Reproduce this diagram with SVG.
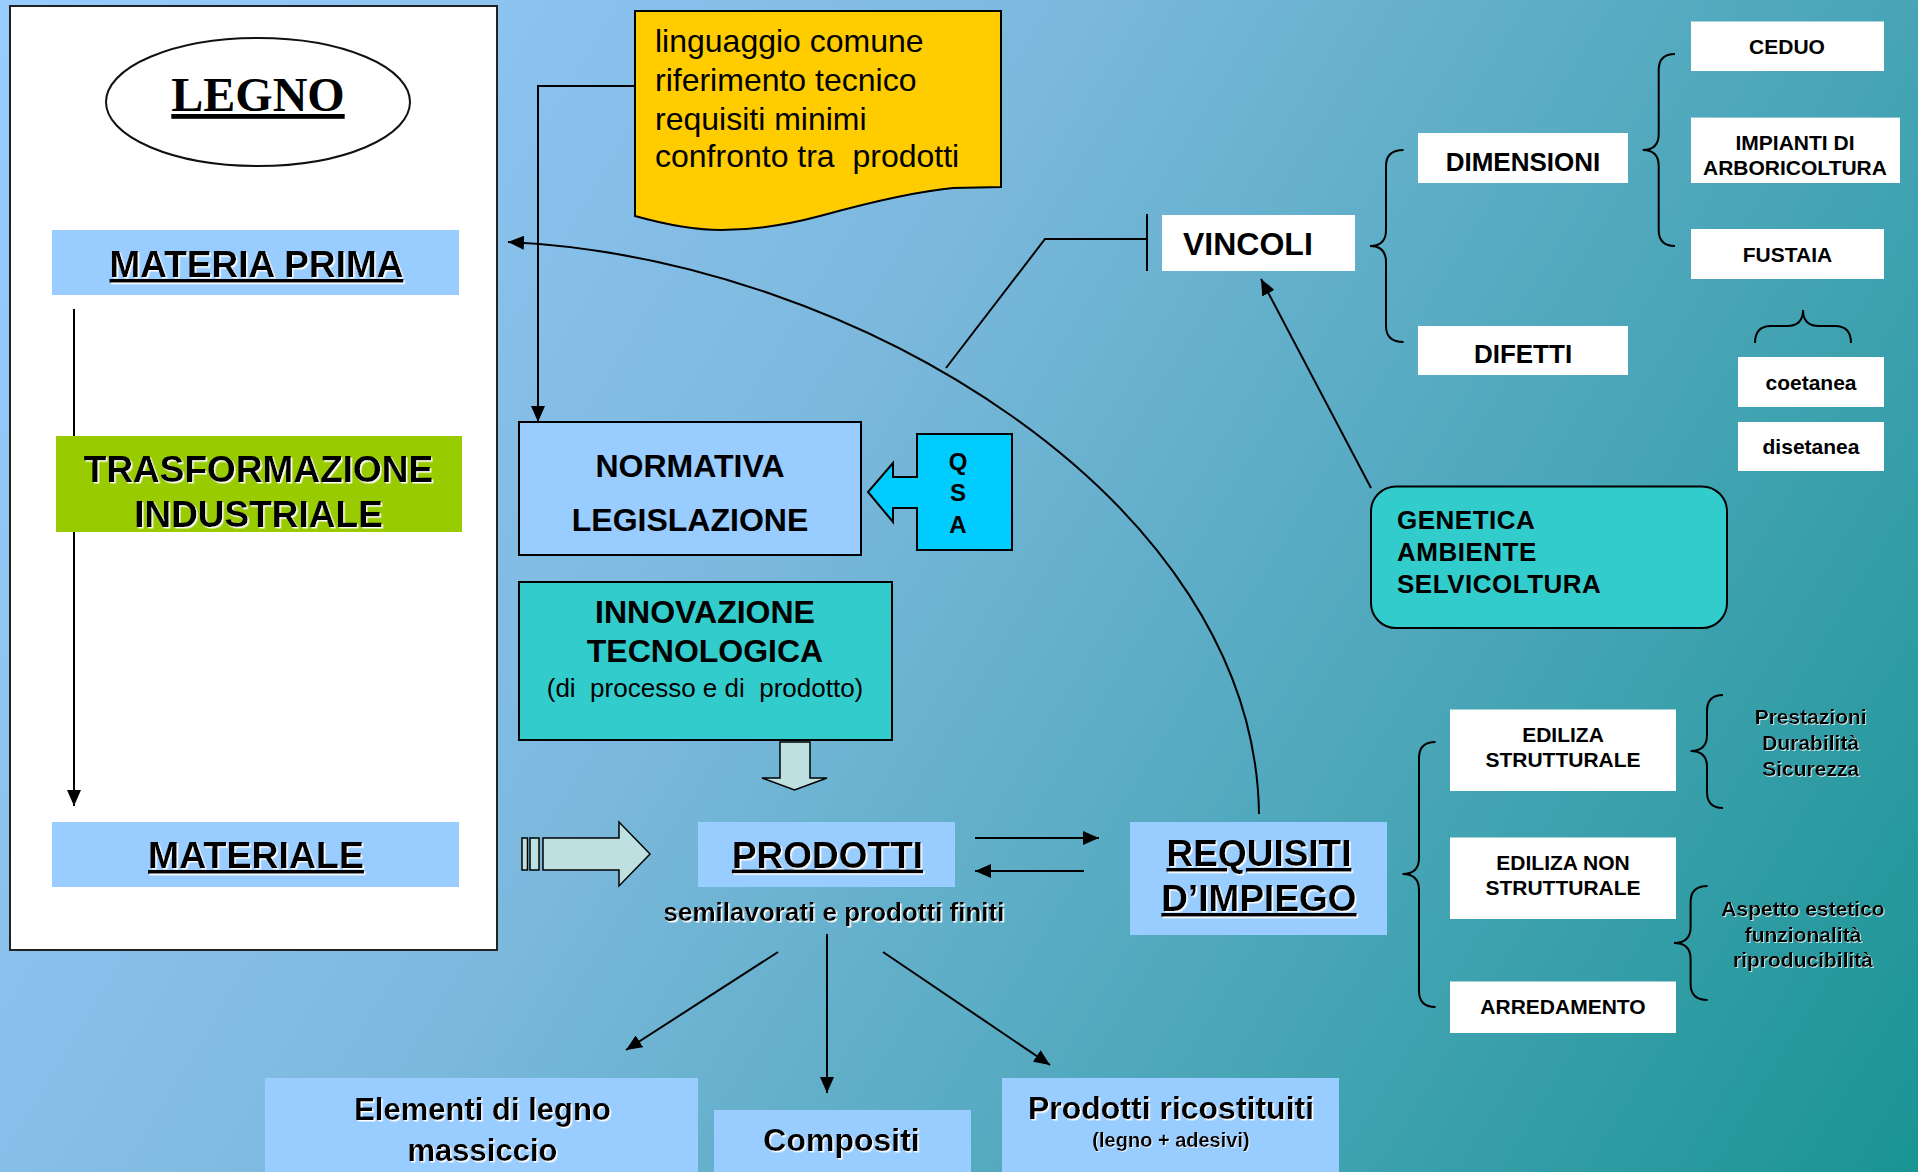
<svg xmlns="http://www.w3.org/2000/svg" width="1918" height="1172" viewBox="0 0 1918 1172">
<defs>
<linearGradient id="bg" gradientUnits="userSpaceOnUse" x1="0" y1="0" x2="1918" y2="1172">
<stop offset="0" stop-color="#99CCFF"/>
<stop offset="0.4" stop-color="#7DB9DE"/>
<stop offset="1" stop-color="#1A9494"/>
</linearGradient>
<marker id="ah" markerUnits="userSpaceOnUse" markerWidth="16" markerHeight="14" viewBox="0 0 16 14" refX="16" refY="7" orient="auto">
<path d="M0,0 L16,7 L0,14 z" fill="#000"/>
</marker>
<filter id="sh" x="-5%" y="-20%" width="110%" height="140%">
<feDropShadow dx="1.5" dy="1.5" stdDeviation="0" flood-color="#FFFFFF" flood-opacity="1"/>
</filter>
<filter id="sh2" x="-5%" y="-20%" width="110%" height="140%">
<feDropShadow dx="1" dy="1" stdDeviation="0" flood-color="#FFFFFF" flood-opacity="0.7"/>
</filter>
</defs>
<style>
.b{font-family:"Liberation Sans",Arial,sans-serif;font-weight:bold;fill:#000}
.r{font-family:"Liberation Sans",Arial,sans-serif;font-weight:normal;fill:#000}
.c{text-anchor:middle}
.u{text-decoration:underline}
.s{filter:url(#sh)}
.s2{filter:url(#sh2)}
.conn{fill:none;stroke:#000;stroke-width:2}
.lb{fill:#99CCFF}
.wb{fill:#FFFFFF}
.br{fill:none;stroke:#000;stroke-width:2}
.fat{fill:#BFE0E0;stroke:#000;stroke-width:1.5}
</style>
<rect x="0" y="0" width="1918" height="1172" fill="url(#bg)"/>

<g id="panel-legno">
<rect x="10" y="6" width="487" height="944" fill="#FFFFFF" stroke="#222" stroke-width="2"/>
</g>

<g id="connectors">
<path class="conn" d="M74,309 V806" marker-end="url(#ah)"/>
<path class="conn" d="M635,86 H538 V422" marker-end="url(#ah)"/>
<path class="conn" d="M1259,814 C1255,500 855,258 508,242" marker-end="url(#ah)"/>
<path class="conn" d="M946,368 L1045,239 H1147"/>
<path class="conn" d="M1147,214 V271"/>
<path class="conn" d="M1371,488 L1261,279" marker-end="url(#ah)"/>
<path class="conn" d="M975,838 H1099" marker-end="url(#ah)"/>
<path class="conn" d="M1084,871 H975" marker-end="url(#ah)"/>
<path class="conn" d="M827,934 V1093" marker-end="url(#ah)"/>
<path class="conn" d="M778,952 L626,1050" marker-end="url(#ah)"/>
<path class="conn" d="M883,952 L1050,1065" marker-end="url(#ah)"/>
<path class="br" d="M1403.6,150 Q1386,150 1386,166 L1386,230 Q1386,246 1370,246 Q1386,246 1386,262 L1386,326 Q1386,342 1403.6,342"/>
<path class="br" d="M1675,54 Q1658.7,54 1658.7,70 L1658.7,134 Q1658.7,150 1642.7,150 Q1658.7,150 1658.7,166 L1658.7,230 Q1658.7,246 1675,246"/>
<path class="br" d="M1755,343 Q1755,326 1771,326 L1787,326 Q1803,326 1803,310 Q1803,326 1819,326 L1835,326 Q1851,326 1851,343"/>
<path class="br" d="M1435.5,742 Q1419,742 1419,758 L1419,858 Q1419,874 1402.5,874 Q1419,874 1419,890 L1419,991 Q1419,1007 1435.5,1007"/>
<path class="br" d="M1723,695 Q1707,695 1707,711 L1707,735 Q1707,751 1690.6,751 Q1707,751 1707,767 L1707,792 Q1707,808 1723,808"/>
<path class="br" d="M1707.6,886 Q1690.6,886 1690.6,902 L1690.6,927 Q1690.6,943 1674,943 Q1690.6,943 1690.6,959 L1690.6,984 Q1690.6,1000 1707.6,1000"/>
</g>

<g id="legno">
<ellipse cx="258" cy="102" rx="152" ry="64" fill="#FFFFFF" stroke="#111" stroke-width="2"/>
<text x="258" y="111" class="c u" font-family="'Liberation Serif','Times New Roman',serif" font-weight="bold" font-size="48">LEGNO</text>
</g>
<g id="materia-prima">
<rect class="lb" x="52" y="230" width="407" height="65"/>
<text class="b c u s" x="256.5" y="277" font-size="37">MATERIA PRIMA</text>
</g>
<g id="trasformazione">
<rect x="56" y="436" width="406" height="96" fill="#99CC00"/>
<text class="b c s" x="258.5" y="482" font-size="37">TRASFORMAZIONE</text>
<text class="b c s" x="258.5" y="527" font-size="37">INDUSTRIALE</text>
</g>
<g id="materiale">
<rect class="lb" x="52" y="822" width="407" height="65"/>
<text class="b c u s" x="256" y="868" font-size="37.5">MATERIALE</text>
</g>

<g id="nota">
<path d="M635,11 H1001 V187 L953,188 C910,192 860,205 820,216 C790,224 760,230 721,230 C690,230 660,223 635,216 Z" fill="#FFCC00" stroke="#000" stroke-width="2"/>
<text class="r" x="655" y="52" font-size="32" xml:space="preserve">linguaggio comune</text>
<text class="r" x="655" y="91" font-size="32" xml:space="preserve">riferimento tecnico</text>
<text class="r" x="655" y="129.5" font-size="32" xml:space="preserve">requisiti minimi</text>
<text class="r" x="655" y="167" font-size="32" xml:space="preserve">confronto tra  prodotti</text>
</g>

<g id="normativa">
<rect class="lb" x="519" y="422" width="342" height="133" stroke="#000" stroke-width="2"/>
<text class="b c" x="690" y="477" font-size="32">NORMATIVA</text>
<text class="b c" x="690" y="531" font-size="32">LEGISLAZIONE</text>
</g>
<g id="qsa">
<path d="M917,434 H1012 V550 H917 V508 H893 V522 L868,492 L893,463 V477 H917 Z" fill="#00CCFF" stroke="#000" stroke-width="2"/>
<text class="b c" x="958" y="470" font-size="24">Q</text>
<text class="b c" x="958" y="501" font-size="24">S</text>
<text class="b c" x="958" y="533" font-size="24">A</text>
</g>
<g id="innovazione">
<rect x="519" y="582" width="373" height="158" fill="#33CCCC" stroke="#000" stroke-width="2"/>
<text class="b c" x="705" y="622.5" font-size="32">INNOVAZIONE</text>
<text class="b c" x="705" y="662" font-size="32">TECNOLOGICA</text>
<text class="r c" x="705" y="697" font-size="26" xml:space="preserve">(di  processo e di  prodotto)</text>
</g>
<g id="freccia-giu">
<path class="fat" d="M780,742 H810 V778 H827 L794.5,790 L762,778 H780 Z"/>
</g>
<g id="freccia-destra">
<rect class="fat" x="522" y="838" width="5.5" height="32"/>
<rect class="fat" x="530" y="838" width="9" height="32"/>
<path class="fat" d="M543,838 H619 V822 L650,854 L619,886 V870 H543 Z"/>
</g>
<g id="prodotti">
<rect class="lb" x="698" y="822" width="257" height="65"/>
<text class="b c u s" x="827.5" y="867.6" font-size="37">PRODOTTI</text>
<text class="b c s" x="834" y="921" font-size="26">semilavorati e prodotti finiti</text>
</g>
<g id="requisiti">
<rect class="lb" x="1130" y="822" width="257" height="113"/>
<text class="b c u s" x="1259" y="866" font-size="37">REQUISITI</text>
<text class="b c u s" x="1259" y="911" font-size="37">D’IMPIEGO</text>
</g>
<g id="elementi">
<rect class="lb" x="265" y="1078" width="433" height="100"/>
<text class="b c s" x="482.5" y="1120" font-size="31">Elementi di legno</text>
<text class="b c s" x="482.5" y="1161" font-size="31">massiccio</text>
</g>
<g id="compositi">
<rect class="lb" x="714" y="1110" width="257" height="70"/>
<text class="b c s" x="841.5" y="1151" font-size="32">Compositi</text>
</g>
<g id="ricostituiti">
<rect class="lb" x="1002" y="1078" width="337" height="100"/>
<text class="b c s" x="1171" y="1119" font-size="32">Prodotti ricostituiti</text>
<text class="b c s2" x="1171" y="1147" font-size="20">(legno + adesivi)</text>
</g>

<g id="vincoli">
<rect class="wb" x="1162" y="215" width="193" height="56"/>
<text class="b" x="1183" y="255" font-size="32">VINCOLI</text>
</g>
<g id="dimensioni">
<rect class="wb" x="1418" y="133" width="210" height="50"/>
<text class="b c" x="1523" y="171" font-size="26">DIMENSIONI</text>
</g>
<g id="difetti">
<rect class="wb" x="1418" y="326" width="210" height="49"/>
<text class="b c" x="1523" y="362.6" font-size="26">DIFETTI</text>
</g>
<g id="ceduo">
<rect class="wb" x="1691" y="21.5" width="193" height="49.5"/>
<text class="b c" x="1787" y="53.6" font-size="21">CEDUO</text>
</g>
<g id="impianti">
<rect class="wb" x="1691" y="117.6" width="209" height="65.4"/>
<text class="b c" x="1795" y="150" font-size="21">IMPIANTI DI</text>
<text class="b c" x="1795" y="174.6" font-size="21">ARBORICOLTURA</text>
</g>
<g id="fustaia">
<rect class="wb" x="1691" y="229" width="193" height="50"/>
<text class="b c" x="1787.5" y="261.6" font-size="21">FUSTAIA</text>
</g>
<g id="coetanea">
<rect class="wb" x="1738" y="357" width="146" height="50"/>
<text class="b c" x="1811" y="390" font-size="21">coetanea</text>
</g>
<g id="disetanea">
<rect class="wb" x="1738" y="422" width="146" height="49"/>
<text class="b c" x="1811" y="454" font-size="21">disetanea</text>
</g>
<g id="genetica">
<rect x="1371" y="486.5" width="356" height="141.5" rx="25" fill="#33CCCC" stroke="#000" stroke-width="2"/>
<text class="b" x="1397" y="529" font-size="26" letter-spacing="0.5">GENETICA</text>
<text class="b" x="1397" y="560.5" font-size="26" letter-spacing="0.5">AMBIENTE</text>
<text class="b" x="1397" y="593" font-size="26" letter-spacing="0.5">SELVICOLTURA</text>
</g>
<g id="edilizia-strutturale">
<rect class="wb" x="1450" y="709.5" width="226" height="81.5"/>
<text class="b c" x="1563" y="741.5" font-size="21">EDILIZA</text>
<text class="b c" x="1563" y="767" font-size="21">STRUTTURALE</text>
</g>
<g id="edilizia-non-strutturale">
<rect class="wb" x="1450" y="837.5" width="226" height="81.5"/>
<text class="b c" x="1563" y="870" font-size="21">EDILIZA NON</text>
<text class="b c" x="1563" y="895" font-size="21">STRUTTURALE</text>
</g>
<g id="arredamento">
<rect class="wb" x="1450" y="981.5" width="226" height="51.5"/>
<text class="b c" x="1563" y="1013.5" font-size="21">ARREDAMENTO</text>
</g>
<g id="prestazioni">
<text class="b c s2" x="1810.7" y="724" font-size="21">Prestazioni</text>
<text class="b c s2" x="1810.7" y="750" font-size="21">Durabilità</text>
<text class="b c s2" x="1810.7" y="775.5" font-size="21">Sicurezza</text>
</g>
<g id="aspetto">
<text class="b c s2" x="1803" y="916" font-size="21">Aspetto estetico</text>
<text class="b c s2" x="1803" y="941.7" font-size="21">funzionalità</text>
<text class="b c s2" x="1803" y="966.7" font-size="21">riproducibilità</text>
</g>
</svg>
